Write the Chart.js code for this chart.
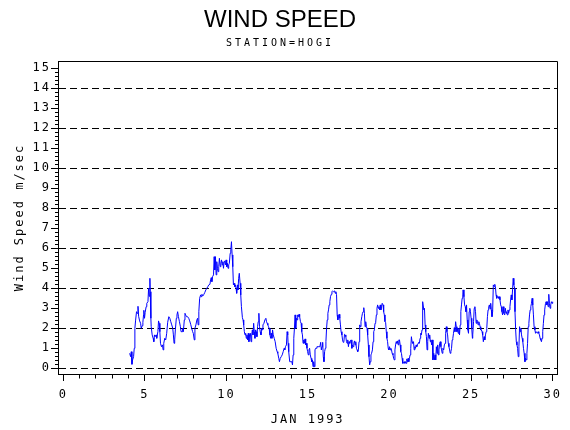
<!DOCTYPE html>
<html>
<head>
<meta charset="utf-8">
<script src="https://cdn.jsdelivr.net/npm/chart.js"></script>
<style>
  html, body { margin: 0; padding: 0; background: #ffffff; overflow: hidden; }
  canvas { display: block; }
</style>
</head>
<body>
<canvas id="c" width="570" height="430"></canvas>
<script>
// Time of each reading, in days of January 1993
const hourDays = [
  4.07,4.13,4.17,4.21,4.25,4.31,4.35,4.39,4.43,4.49,4.53,4.58,4.62,4.68,4.74,4.78,4.84,4.88,4.92,4.94,
  4.98,5.02,5.08,5.12,5.19,5.23,5.27,5.31,5.33,5.37,5.39,5.45,5.51,5.55,5.59,5.63,5.69,5.73,5.80,5.84,
  5.88,5.92,5.96,6.02,6.08,6.12,6.16,6.22,6.28,6.34,6.40,6.47,6.53,6.59,6.65,6.71,6.75,6.79,6.83,6.87,
  6.93,6.97,7.01,7.06,7.12,7.18,7.22,7.28,7.32,7.36,7.42,7.46,7.50,7.56,7.62,7.69,7.75,7.81,7.87,7.93,7.97,
  8.03,8.07,8.13,8.19,8.23,8.27,8.31,8.36,8.42,8.46,8.50,8.56,8.62,8.68,8.74,8.80,8.86,8.92,8.99,9.03,
  9.07,9.11,9.15,9.21,9.25,9.29,9.33,9.37,9.41,9.45,9.49,9.53,9.57,9.62,9.66,9.70,9.74,9.78,9.82,9.86,
  9.90,9.94,9.98,10.02,10.06,10.10,10.14,10.18,10.23,10.27,10.31,10.35,10.39,10.43,10.47,10.51,10.55,10.59,10.63,10.67,
  10.71,10.75,10.79,10.84,10.88,10.92,10.98,11.02,11.06,11.10,11.14,11.18,11.22,11.26,11.30,11.34,11.38,11.42,11.47,11.51,
  11.55,11.59,11.63,11.67,11.71,11.75,11.79,11.83,11.87,11.91,11.95,11.99,12.03,12.07,12.12,12.16,12.20,12.24,
  12.30,12.36,12.42,12.46,12.50,12.54,12.58,12.62,12.67,12.71,12.75,12.79,12.83,12.87,12.93,12.99,13.05,13.11,13.15,13.21,
  13.25,13.30,13.36,13.42,13.48,13.54,13.58,13.62,13.68,13.72,13.76,13.78,13.82,13.88,13.95,14.01,14.05,14.09,14.13,14.17,
  14.21,14.25,14.29,14.33,14.37,14.41,14.45,14.49,14.54,14.58,14.62,14.66,14.70,14.74,14.78,14.82,14.86,14.90,14.94,14.98,
  15.02,15.06,15.10,15.14,15.19,15.23,15.27,15.31,15.35,15.39,15.43,15.47,15.51,15.55,15.61,15.67,15.73,15.78,15.82,15.86,
  15.90,15.94,15.98,16.02,16.06,16.10,16.14,16.18,16.22,16.26,16.30,16.34,16.38,16.43,16.47,16.51,
  16.57,16.63,16.67,16.71,16.75,16.79,16.83,16.87,16.91,16.95,16.99,17.03,17.08,17.12,17.16,17.20,17.24,17.28,17.32,17.36,
  17.40,17.44,17.48,17.52,17.56,17.60,17.64,17.69,17.73,17.77,17.81,17.85,17.89,17.93,17.97,18.01,18.05,18.09,18.13,18.17,
  18.21,18.25,18.30,18.34,18.38,18.42,18.46,18.50,18.54,18.58,18.62,18.66,18.70,18.74,18.78,18.82,18.86,18.90,18.95,18.99,
  19.03,19.07,19.11,19.15,19.19,19.23,19.27,19.31,19.35,19.39,19.43,19.47,19.51,19.55,19.60,19.64,19.68,19.72,19.76,19.80,
  19.84,19.88,19.92,19.96,20.00,20.04,20.08,20.12,20.16,20.21,20.25,20.29,20.33,20.37,20.41,20.45,20.49,20.53,20.57,20.61,
  20.65,20.69,20.73,20.77,20.81,
  20.84,20.90,20.94,20.98,21.02,21.06,21.10,21.14,21.18,21.22,21.26,21.30,21.34,21.38,21.42,21.47,21.51,21.55,21.59,21.63,
  21.67,21.71,21.75,21.79,21.83,21.87,21.91,21.95,21.99,22.01,22.05,22.10,22.14,22.18,22.22,22.26,22.30,22.34,22.38,22.42,
  22.46,22.50,22.54,22.58,22.62,22.66,22.71,22.75,22.79,22.83,22.87,22.91,22.95,22.99,23.03,23.07,23.11,23.15,23.19,23.23,
  23.27,23.32,23.36,23.40,23.44,23.48,23.52,23.56,23.60,23.64,23.68,23.72,23.76,23.80,23.84,23.88,23.92,23.97,24.01,24.05,
  24.09,24.13,24.17,24.21,24.25,24.29,24.33,24.37,24.41,24.45,24.49,24.51,24.56,24.60,24.64,24.68,24.72,24.76,24.80,24.84,
  24.88,24.92,24.96,25.00,25.04,25.08,
  25.10,25.15,25.19,25.23,25.27,25.31,25.35,25.39,25.43,25.47,25.51,25.55,25.59,25.63,25.67,25.71,25.75,25.80,25.84,25.88,
  25.92,25.96,26.00,26.04,26.08,26.12,26.16,26.20,26.24,26.28,26.32,26.36,26.41,26.45,26.49,26.53,26.57,26.61,26.65,26.69,
  26.73,26.77,26.81,26.85,26.89,26.93,26.97,27.01,27.06,27.10,27.14,27.18,27.22,27.26,27.30,27.34,27.38,27.42,27.46,27.50,
  27.54,27.58,27.62,27.67,27.69,27.73,27.77,27.81,27.85,27.89,27.93,27.97,28.01,28.05,28.09,28.13,28.17,28.21,28.25,28.30,
  28.34,28.38,28.42,28.46,28.50,28.54,28.58,28.62,28.66,28.70,28.74,28.78,28.82,28.86,28.91,28.95,28.99,29.03,29.07,29.11,
  29.15,29.19,29.23,29.27,29.31,29.35,29.39,29.43,29.47,29.51,29.56,29.60,29.64,29.68,29.72,29.76,29.80,29.84,29.88,29.92,
  29.96,30.00
];

// Wind speed readings (m/sec), one per entry of hourDays
const windSpeed = [
  0.75,0.58,0.83,0.2,0.42,0.58,1.0,2.0,2.37,2.83,2.75,3.1,2.6,2.37,2.25,2.0,2.13,2.3,2.67,2.9,
  2.5,2.8,3.08,3.25,3.33,4.0,3.6,4.5,3.83,2.5,2.08,1.67,1.5,1.33,1.67,1.58,1.67,1.5,1.83,2.37,
  2.25,1.83,1.25,1.08,1.17,0.92,1.25,1.5,1.42,1.75,2.3,2.58,2.5,2.33,2.17,2.0,1.67,1.25,1.42,1.92,
  2.5,2.67,2.83,2.58,2.33,2.08,1.83,1.83,2.0,1.83,2.42,2.75,2.67,2.58,2.58,2.5,2.37,2.2,2.0,1.83,1.75,
  1.42,2.0,2.17,2.42,2.5,2.17,2.83,3.5,3.67,3.58,3.7,3.62,3.7,3.8,3.92,4.0,4.08,4.17,4.2,4.42,
  4.53,4.33,4.58,4.67,5.58,4.92,5.58,4.67,5.33,5.0,4.83,5.08,5.5,5.08,5.25,5.42,5.17,5.33,5.0,5.33,
  5.37,5.17,5.42,5.08,5.25,5.0,5.17,5.25,5.75,5.92,6.33,5.67,5.08,4.17,4.25,4.08,4.17,4.0,3.75,4.17,
  3.92,4.5,4.75,4.25,3.67,3.08,2.53,2.42,2.17,1.83,1.67,1.75,1.5,1.67,1.42,1.75,1.33,1.67,1.75,1.33,
  1.67,1.92,1.67,2.25,1.83,1.5,1.92,1.83,1.58,2.08,2.33,2.75,2.08,1.83,1.67,2.0,1.92,2.17,
  2.25,2.42,2.5,2.33,2.25,2.17,2.08,2.0,1.67,1.5,1.75,1.5,1.92,1.67,1.5,1.33,1.0,0.83,0.75,0.5,
  0.33,0.5,0.58,0.67,0.83,1.0,0.92,1.08,1.17,1.83,1.67,1.25,0.83,0.33,0.33,0.33,0.17,0.67,1.5,2.0,
  2.67,2.0,2.5,2.42,2.67,2.58,2.7,2.58,2.33,2.25,1.83,1.67,1.25,1.42,1.25,1.47,1.17,1.25,1.0,0.83,
  0.67,0.92,1.0,0.67,0.5,0.33,0.42,0.08,0.33,0.08,0.92,1.0,1.0,1.08,1.08,1.08,1.08,1.3,0.92,1.08,
  1.3,0.58,0.33,0.83,1.0,1.33,2.0,2.42,2.75,2.92,3.17,3.33,3.58,3.7,3.83,3.87,
  3.83,3.87,3.75,3.83,3.7,2.67,2.42,2.58,2.7,2.5,2.17,1.83,1.67,1.42,1.3,1.33,1.7,1.67,1.58,1.33,
  1.25,1.42,1.08,1.33,1.25,1.37,1.42,1.0,1.17,1.08,1.25,1.37,1.17,1.33,1.0,0.92,0.83,0.92,1.33,2.17,
  2.08,2.33,2.58,2.75,2.83,3.03,2.75,2.08,2.33,2.08,2.0,1.67,1.17,0.58,0.17,0.33,0.67,0.75,0.92,1.33,
  1.83,1.92,2.25,2.3,2.67,3.0,3.17,3.0,3.08,2.92,3.17,2.92,3.08,3.25,3.17,2.83,2.67,2.33,2.3,1.83,
  1.5,1.33,1.0,0.92,1.08,0.92,1.0,0.92,0.75,0.67,0.5,0.42,0.92,1.17,1.33,1.25,1.37,1.17,1.42,1.42,
  1.17,0.83,0.75,0.5,0.25,
  0.25,0.33,0.25,0.33,0.25,0.47,0.33,0.5,0.33,0.5,0.67,1.0,1.58,1.33,1.25,1.33,0.92,1.08,1.0,1.17,
  1.08,1.17,1.25,1.3,1.25,1.5,1.75,1.67,1.92,2.83,3.33,2.92,3.0,2.17,1.83,1.58,0.92,1.33,1.75,1.5,
  1.67,1.33,1.42,1.17,1.42,0.42,0.75,0.42,0.67,0.42,1.08,0.75,1.17,0.67,0.92,1.25,1.33,1.08,0.92,0.75,
  1.0,0.92,1.17,1.25,1.75,2.08,1.83,1.67,1.25,1.08,0.92,0.75,0.83,1.0,1.42,1.5,1.75,2.03,1.83,2.33,
  2.08,1.83,2.0,1.75,2.0,1.67,2.17,2.83,3.17,3.5,3.67,3.92,3.58,3.17,3.08,2.83,3.17,2.42,1.92,1.75,
  2.83,3.0,2.83,2.5,2.0,1.5,
  1.67,2.33,3.0,3.08,2.83,2.25,2.42,2.33,2.17,2.33,2.25,2.08,1.92,1.92,1.83,1.67,1.33,1.58,1.42,1.67,
  1.83,2.0,2.58,2.92,3.08,3.17,2.97,3.25,2.92,2.58,2.83,4.17,4.08,4.2,4.08,3.67,3.5,3.58,3.58,3.5,
  3.58,3.42,3.17,3.08,2.83,2.67,3.08,2.75,2.67,3.0,2.75,2.83,2.67,2.92,2.75,2.92,3.08,3.42,3.67,3.42,
  3.92,4.5,4.17,4.0,2.83,1.92,1.33,1.17,1.0,0.58,1.08,2.08,1.83,2.0,1.67,1.5,1.33,1.0,0.75,0.33,
  0.5,0.42,0.75,1.25,2.08,2.25,2.67,2.92,3.08,3.25,3.5,3.17,2.67,2.08,1.92,1.75,1.83,1.83,1.75,1.83,
  1.75,1.67,1.5,1.42,1.33,1.5,1.83,2.25,2.67,2.92,3.25,3.33,3.17,3.33,3.08,3.7,3.25,3.0,3.17,3.33,
  3.25,3.33
];

const xTickValues = [0, 5, 10, 15, 20, 25, 30];
const yTickValues = [0, 1, 2, 3, 4, 5, 6, 7, 8, 9, 10, 11, 12, 13, 14, 15];

const n = Math.min(hourDays.length, windSpeed.length);
const points = [];
for (let i = 0; i < n; i++) points.push({ x: hourDays[i], y: windSpeed[i] });

const monoFont = { family: "'DejaVu Sans Mono', monospace", size: 12, weight: 'normal', lineHeight: 1 };

const sasLook = {
  id: 'sasLook',
  beforeLayout(chart) { chart.ctx.letterSpacing = '2px'; },
  beforeDraw(chart) {
    const ctx = chart.ctx;
    ctx.letterSpacing = '2px';
    chart.boxes.forEach(box => {
      if (box._lsWrapped) return;
      if (box.id && chart.scales[box.id] === box) return;
      const spacing = box === chart.titleBlock ? '0px' : '3px';
      const orig = box.draw.bind(box);
      box.draw = function (area) {
        const prev = ctx.letterSpacing;
        ctx.letterSpacing = spacing;
        orig(area);
        ctx.letterSpacing = prev;
      };
      box._lsWrapped = true;
    });
  },
  afterDraw(chart) {
    const ctx = chart.ctx;
    const { left, right, top, bottom } = chart.chartArea;
    const xs = chart.scales.x, ys = chart.scales.y;
    ctx.save();
    ctx.setLineDash([]);
    ctx.strokeStyle = '#000';
    ctx.lineWidth = 1;
    ctx.beginPath();
    const L = Math.round(left) + 0.5, R = Math.round(right) + 0.5;
    const T = Math.round(top) + 0.5, B = Math.round(bottom) + 0.5;
    ctx.moveTo(L, T); ctx.lineTo(R, T); ctx.lineTo(R, B);
    for (let v = 0; v <= 30; v++) {
      if (v % 5 === 0) continue;
      const px = Math.round(xs.getPixelForValue(v) - 0.5) + 0.5;
      ctx.moveTo(px, B); ctx.lineTo(px, B + 4);
    }
    for (let k = 0; k <= 75; k++) {
      if (k % 5 === 0) continue;
      const py = Math.round(ys.getPixelForValue(k / 5) - 0.5) + 0.5;
      ctx.moveTo(L - 3.5, py); ctx.lineTo(L, py);
    }
    ctx.stroke();
    ctx.restore();
  }
};

new Chart(document.getElementById('c'), {
  type: 'line',
  data: {
    datasets: [{
      data: points,
      borderColor: '#0000ff',
      borderWidth: 1,
      pointRadius: 0,
      fill: false,
      tension: 0
    }]
  },
  options: {
    responsive: false,
    animation: false,
    devicePixelRatio: 1,
    layout: { padding: { left: 0, right: 10, top: 0, bottom: 0 } },
    plugins: {
      legend: { display: false },
      tooltip: { enabled: false },
      title: {
        display: true,
        text: 'WIND SPEED',
        color: '#000',
        font: { family: "'Liberation Sans', Arial, sans-serif", size: 24, weight: 'normal', lineHeight: 1 },
        padding: { top: 8.5, bottom: 0 }
      },
      subtitle: {
        display: true,
        text: 'STATION=HOGI',
        color: '#000',
        font: { family: "'DejaVu Sans Mono', monospace", size: 10, weight: 'normal', lineHeight: 1 },
        padding: { top: 6, bottom: 12.5 }
      }
    },
    scales: {
      x: {
        type: 'linear',
        min: -0.323,
        max: 30.287,
        afterBuildTicks: s => { s.ticks = xTickValues.map(v => ({ value: v })); },
        afterFit: s => { s.height = 56; },
        ticks: {
          color: '#000',
          font: monoFont,
          padding: 8,
          maxRotation: 0,
          autoSkip: false,
          includeBounds: false,
          callback: v => String(v)
        },
        grid: {
          drawOnChartArea: false,
          drawTicks: true,
          tickLength: 7,
          tickColor: '#000',
          color: '#000',
          lineWidth: 1
        },
        border: { display: true, color: '#000', width: 1 },
        title: {
          display: true,
          text: 'JAN 1993',
          color: '#000',
          font: monoFont,
          padding: { top: 0, bottom: 4 }
        }
      },
      y: {
        type: 'linear',
        min: -0.285,
        max: 15.365,
        afterBuildTicks: s => { s.ticks = yTickValues.map(v => ({ value: v })); },
        afterFit: s => { s.width = 58; },
        ticks: {
          color: '#000',
          font: monoFont,
          padding: 0,
          autoSkip: false,
          includeBounds: false,
          callback: v => String(v)
        },
        grid: {
          drawTicks: true,
          tickLength: 7,
          tickColor: '#000',
          lineWidth: 1,
          color: c => (c.tick && c.tick.value % 2 === 0) ? '#000' : 'rgba(0,0,0,0)'
        },
        border: { display: true, color: '#000', width: 1, dash: [7, 4] },
        title: {
          display: true,
          text: 'Wind Speed m/sec',
          color: '#000',
          font: monoFont,
          padding: { top: 14, bottom: 0 }
        }
      }
    }
  },
  plugins: [sasLook]
});
</script>
</body>
</html>
